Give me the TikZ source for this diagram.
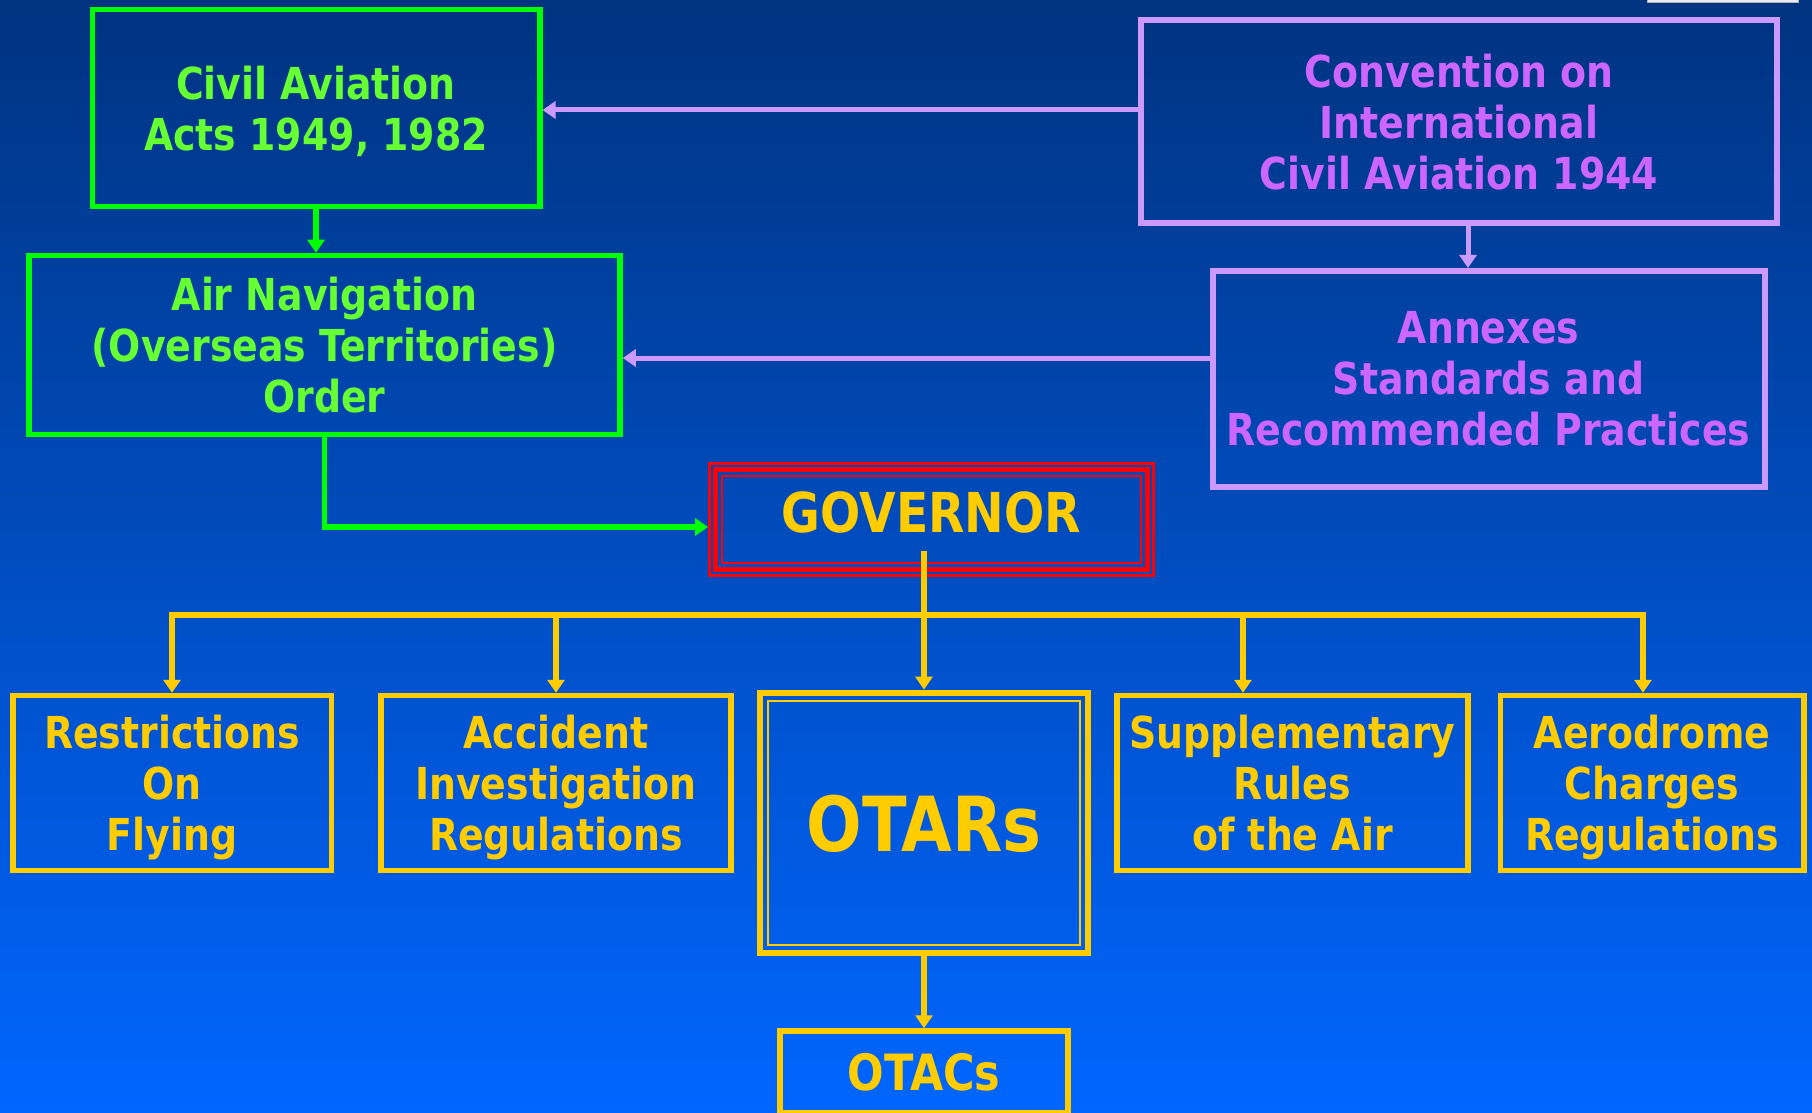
\documentclass[tikz,border=0pt]{standalone}
\usepackage{fontspec}
\setmainfont{DejaVu Sans}[FakeStretch=0.86]
\usetikzlibrary{arrows.meta,calc}
\definecolor{navytop}{HTML}{003380}
\definecolor{bluebot}{HTML}{0066FF}
\definecolor{lawgreen}{HTML}{00FF00}
\definecolor{lawtext}{HTML}{66FF33}
\definecolor{icaoviolet}{HTML}{CC99FF}
\definecolor{icaotext}{HTML}{CC66FF}
\definecolor{otyellow}{HTML}{FFCC00}
\begin{document}
\begin{tikzpicture}[x=0.5pt,y=-0.5pt,>={Triangle[width=8.5pt,length=6.5pt]},
	every node/.style={inner sep=0pt,font=\bfseries\fontsize{22}{25.5}\selectfont},
	boxsize/.style 2 args={minimum width=#1*0.5pt,minimum height=#2*0.5pt},
	lawbox/.style={draw=lawgreen,text=lawtext,line width=2.75pt,align=center,text depth=0pt},
	icaobox/.style={draw=icaoviolet,text=icaotext,line width=3pt,align=center,text depth=0pt},
	otbox/.style={draw=otyellow,text=otyellow,line width=2.75pt,align=center,text depth=0pt},
	lawline/.style={lawgreen,line width=2.75pt},
	icaoline/.style={icaoviolet,line width=2.5pt},
	otline/.style={otyellow,line width=2.6pt}]
			\useasboundingbox (0,0) rectangle (1812,1113);
			\shade[top color=navytop,bottom color=bluebot] (0,0) rectangle (1812,1113);
			\draw[gray!60,fill=blue!8] (1647,-6) rectangle (1798,2.7);
			% legislation
			\node[lawbox,boxsize={447.5}{197}] (civil) at (316,108) {Civil Aviation\\Acts 1949, 1982};
			\node[lawbox,boxsize={591}{179}] (airnav) at (324.5,345) {Air Navigation\\(Overseas Territories)\\Order};
			\node[icaobox,boxsize={636.5}{203}] (chicago) at (1459,121.5) {Convention on\\International\\Civil Aviation 1944};
			\node[icaobox,boxsize={552}{215.5}] (annexes) at (1488.5,378.75) {Annexes\\Standards and\\Recommended Practices};
			% governor, triple red frame
			\node[draw=red,line width=1.65pt,boxsize={443.7}{111.7},text=otyellow,
				font=\bfseries\fontsize{27.5}{33}\selectfont,text depth=7pt] (gov) at (931.5,519.5) {GOVERNOR};
			\draw[red,line width=2.5pt] ([shift={(7.5,7.5)}]gov.north west) rectangle ([shift={(-7.5,-7.5)}]gov.south east);
			\draw[red,line width=1pt] ([shift={(14,14)}]gov.north west) rectangle ([shift={(-14,-14)}]gov.south east);
			% regulations
			\foreach \n/\x/\w/\t in {restr/172/318.5/{Restrictions\\On\\Flying},accid/556/350/{Accident\\Investigation\\Regulations},
				supp/1292.5/351/{Supplementary\\Rules\\of the Air},aero/1652/303.5/{Aerodrome\\Charges\\Regulations}}
			\node[otbox,boxsize={\w}{175}] (\n) at (\x,783) {\t};
			\node[otbox,line width=3.25pt,boxsize={328}{260.3},font=\bfseries\fontsize{38}{44}\selectfont] (otars) at (924,823) {OTARs};
			\draw[otyellow,line width=1pt] ([shift={(11,11)}]otars.north west) rectangle ([shift={(-11,-11)}]otars.south east);
			\node[otbox,boxsize={288}{82},font=\bfseries\fontsize{25}{30}\selectfont] (otacs) at (924,1072) {OTACs};
			% connectors
			\draw[lawline,->] (civil.south) -- (civil.south |- airnav.north);
			\draw[lawline,->] (airnav.south) |- ([shift={(0,7.5)}]gov.west);
			\draw[icaoline,->] (chicago.west |- 0,110) -- (civil.east |- 0,110);
			\draw[icaoline,->] (annexes.west |- 0,358) -- (airnav.east |- 0,358);
			\draw[icaoline,->] (chicago.south -| 1468,0) -- (annexes.north -| 1468,0);
			\coordinate (govtail) at (924,551);
			\coordinate (bus) at (924,615);
			\draw[otline,->] (govtail) -- (otars.north);
			\draw[otline,<->] (restr.north) |- (bus) -| (aero.north -| 1643,0);
			\foreach \n/\x in {accid/556,supp/1243}
			\draw[otline,->] (\x,615) -- (\n.north -| \x,0);
			\draw[otline,->] (otars) -- (otacs);
		\end{tikzpicture}
\end{document}
